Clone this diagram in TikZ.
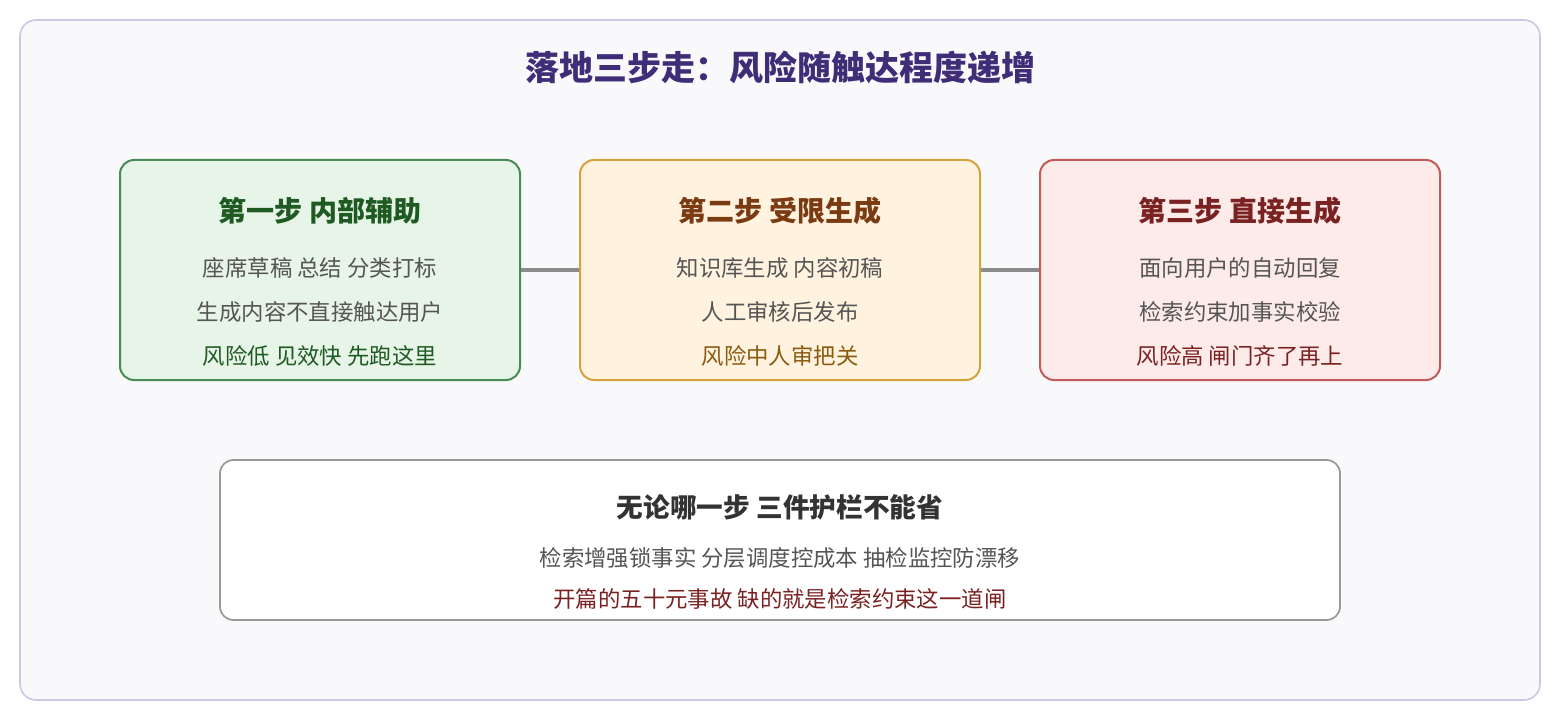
\documentclass[tikz,border=0pt]{standalone}
\usepackage{fontspec}
\setmainfont{Noto Sans CJK SC}
\definecolor{bgc}{HTML}{F9F9FB}
\definecolor{bgs}{HTML}{CCC8E2}
\definecolor{ttl}{HTML}{3F2D78}
\definecolor{g1}{HTML}{E7F4E8}\definecolor{g2}{HTML}{4A8A55}\definecolor{g3}{HTML}{1F5A22}
\definecolor{o1}{HTML}{FFF3DF}\definecolor{o2}{HTML}{D6A23C}\definecolor{o3}{HTML}{7A3A12}\definecolor{o4}{HTML}{8A5A10}
\definecolor{r1}{HTML}{FDEBEA}\definecolor{r2}{HTML}{C25A5A}\definecolor{r3}{HTML}{7A2222}
\definecolor{txt}{HTML}{555555}
\begin{document}
\begin{tikzpicture}[x=0.75pt,y=-0.75pt,
 box/.style={draw,line width=1.5pt,rounded corners=10.5pt,minimum width=300pt,minimum height=165pt,inner sep=0pt},
 head/.style={font=\fontsize{21}{24}\selectfont\bfseries},
 body/.style={font=\fontsize{16.8}{19}\selectfont,text=txt},
 link/.style={draw=gray!90,line width=2.3pt}]
\useasboundingbox (0,0) rectangle (1560,720);
\node[draw=bgs,fill=bgc,line width=1.2pt,rounded corners=12pt,minimum width=1140pt,minimum height=510pt] (frame) at (780,360) {};
\node[text=ttl,font=\fontsize{25.5}{28}\selectfont\bfseries] (title) at (780,68) {落地三步走：风险随触达程度递增};
\node[box,fill=g1,draw=g2] (b1) at (320,270) {};
\node[box,fill=o1,draw=o2] (b2) at (780,270) {};
\node[box,fill=r1,draw=r2] (b3) at (1240,270) {};
\draw[link] (b1.east) -- (b2.west);
\draw[link] (b2.east) -- (b3.west);
\node[head,text=g3] (t1) at (320,211) {第一步 内部辅助};
\node[body] (l11) at (320,268) {座席草稿 总结 分类打标};
\node[body] (l12) at (320,312) {生成内容不直接触达用户};
\node[body,text=g3] (l13) at (320,356) {风险低 见效快 先跑这里};
\node[head,text=o3] (t2) at (780,211) {第二步 受限生成};
\node[body] (l21) at (780,268) {知识库生成 内容初稿};
\node[body] (l22) at (780,312) {人工审核后发布};
\node[body,text=o4] (l23) at (780,356) {风险中人审把关};
\node[head,text=r3] (t3) at (1240,211) {第三步 直接生成};
\node[body] (l31) at (1240,268) {面向用户的自动回复};
\node[body] (l32) at (1240,312) {检索约束加事实校验};
\node[body,text=r3] (l33) at (1240,356) {风险高 闸门齐了再上};
\node[draw=gray!80,fill=white,line width=1.3pt,rounded corners=10pt,minimum width=840pt,minimum height=120pt] (b4) at (780,540) {};
\node[head,text=black!80,font=\fontsize{20}{23}\selectfont\bfseries] (t4) at (780,507) {无论哪一步 三件护栏不能省};
\node[body] (l41) at (780,558) {检索增强锁事实 分层调度控成本 抽检监控防漂移};
\node[body,text=r3] (l42) at (780,599) {开篇的五十元事故 缺的就是检索约束这一道闸};
\end{tikzpicture}
\end{document}
